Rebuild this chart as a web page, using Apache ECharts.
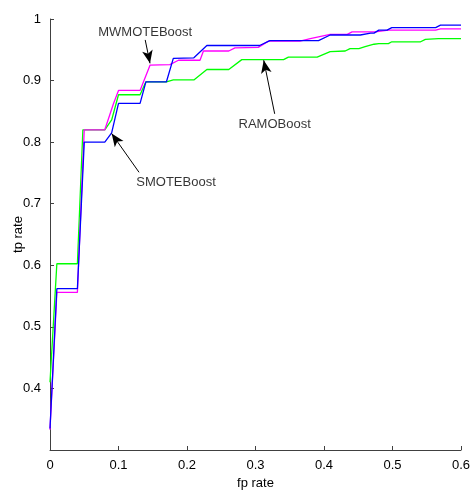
<!DOCTYPE html>
<html><head><meta charset="utf-8">
<script src="https://cdn.jsdelivr.net/npm/echarts@6/dist/echarts.min.js"></script>
<style>html,body{margin:0;padding:0;background:#fff}#c{width:471px;height:492px}</style>
</head><body><div id="c"></div>
<script>
// Data (fp rate, tp rate)
var smoteBoost = [[0,0.335],[0.01,0.562],[0.04,0.562],[0.05,0.80],[0.08,0.80],[0.09,0.815],[0.1,0.863],[0.1315,0.863],[0.14,0.898],[0.17,0.898],[0.18,0.936],[0.21,0.937],[0.229,0.957],[0.306,0.957],[0.321,0.965],[0.392,0.965],[0.409,0.974],[0.453,0.974],[0.468,0.977],[0.473,0.977],[0.48,0.982],[0.492,0.982],[0.499,0.986],[0.563,0.986],[0.57,0.990],[0.6,0.990]];
var mwmoteBoost = [[0,0.333],[0.01,0.556],[0.04,0.556],[0.05,0.82],[0.08,0.82],[0.0925,0.862],[0.1,0.884],[0.1315,0.884],[0.146,0.925],[0.175,0.926],[0.1875,0.933],[0.219,0.933],[0.224,0.948],[0.261,0.948],[0.27,0.953],[0.304,0.954],[0.319,0.964],[0.365,0.964],[0.38,0.968],[0.409,0.975],[0.434,0.975],[0.441,0.979],[0.475,0.979],[0.494,0.982],[0.563,0.982],[0.57,0.984],[0.6,0.984]];
var ramoBoost = [[0,0.41],[0.01,0.6025],[0.04,0.6025],[0.048,0.82],[0.08,0.82],[0.09,0.836],[0.1,0.877],[0.1315,0.877],[0.14,0.898],[0.17,0.898],[0.18,0.901],[0.21,0.901],[0.229,0.918],[0.261,0.918],[0.28,0.934],[0.341,0.934],[0.348,0.938],[0.39,0.938],[0.409,0.947],[0.431,0.948],[0.438,0.952],[0.451,0.952],[0.46,0.955],[0.473,0.959],[0.48,0.960],[0.494,0.960],[0.499,0.963],[0.541,0.963],[0.548,0.967],[0.567,0.968],[0.6,0.968]];
var xTicks = [0,0.1,0.2,0.3,0.4,0.5,0.6];
var yTicks = [0.4,0.5,0.6,0.7,0.8,0.9,1];
// Annotations: label text, label position, arrow tail, arrow head (data coords)
var annoText = ['MWMOTEBoost','SMOTEBoost','RAMOBoost'];
var annoPos = [[0.139,0.979],[0.184,0.735],[0.328,0.829]];
var annoTail = [[0.139,0.966],[0.130,0.751],[0.328,0.846]];
var annoHead = [[0.146,0.928],[0.090,0.814],[0.312,0.933]];

var font = 'Liberation Sans, Arial, Helvetica, sans-serif';
var chart = echarts.init(document.getElementById('c'), null, {renderer:'canvas'});
function lineSeries(name, data, color){
  return {name:name, type:'line', data:data, symbol:'none', smooth:false,
    lineStyle:{color:color, width:1.3}, itemStyle:{color:color}, z:2, animation:false};
}
chart.setOption({
  animation:false,
  grid:{left:50, right:10, top:19, bottom:42, containLabel:false, outerBoundsMode:'none'},
  xAxis:{type:'value', min:0, max:0.6, interval:0.1,
    name:'fp rate', nameLocation:'middle', nameGap:24,
    nameTextStyle:{color:'#000', fontSize:13, fontFamily:font},
    axisLine:{show:true, lineStyle:{color:'#404040', width:1}},
    axisTick:{show:true, inside:true, length:4, lineStyle:{color:'#404040'}},
    axisLabel:{color:'#000', fontSize:13, fontFamily:font, margin:9,
      formatter:function(v){var i=xTicks.findIndex(function(t){return Math.abs(t-v)<1e-9;});return i<0?'':String(xTicks[i]);}},
    splitLine:{show:false}},
  yAxis:{type:'value', min:0.3, max:1, interval:0.1,
    name:'tp rate', nameLocation:'middle', nameGap:25, nameRotate:90, nameMoveOverlap:false,
    nameTextStyle:{color:'#000', fontSize:13, fontFamily:font},
    axisLine:{show:true, lineStyle:{color:'#404040', width:1}},
    axisTick:{show:true, inside:true, length:4, lineStyle:{color:'#404040'}},
    axisLabel:{color:'#000', fontSize:13, fontFamily:font, margin:9,
      formatter:function(v){var i=yTicks.findIndex(function(t){return Math.abs(t-v)<1e-9;});return i<0?'':String(yTicks[i]);}},
    splitLine:{show:false}},
  series:[
    lineSeries('RAMOBoost', ramoBoost, '#00ff00'),
    lineSeries('MWMOTEBoost', mwmoteBoost, '#ff00ff'),
    lineSeries('SMOTEBoost', smoteBoost, '#0000ff'),
    {type:'scatter', data:annoPos.map(function(p,i){return {value:p, name:annoText[i]};}),
      symbolSize:0, z:5, silent:true,
      label:{show:true, position:'inside', formatter:'{b}', color:'#000', fontSize:13, fontFamily:font},
      markLine:{silent:true, symbol:['none','arrow'], symbolSize:[8,13], animation:false,
        lineStyle:{color:'#000', width:1, type:'solid'}, label:{show:false},
        data:annoTail.map(function(t,i){return [{coord:t},{coord:annoHead[i]}];})}}
  ]
});
</script></body></html>
